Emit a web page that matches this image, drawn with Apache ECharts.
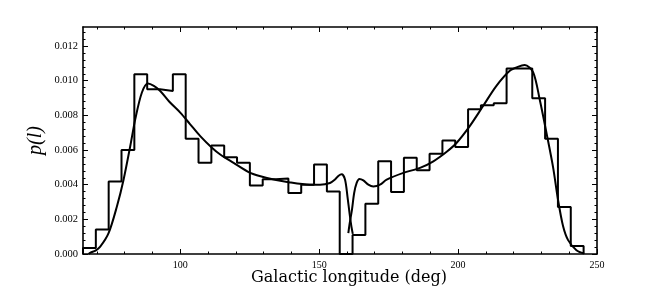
<!DOCTYPE html>
<html>
<head>
<meta charset="utf-8">
<script src="https://cdn.jsdelivr.net/npm/echarts@6/dist/echarts.min.js"></script>
<style>
html,body{margin:0;padding:0;background:#fff;}
#chart{width:664px;height:289px;}
</style>
</head>
<body>
<div id="chart"></div>
<script>
// ---- data ----
const xTicks = [100, 150, 200, 250];
const xMinorTicks = [70, 80, 90, 110, 120, 130, 140, 160, 170, 180, 190, 210, 220, 230, 240];
const yTicks = [0, 0.002, 0.004, 0.006, 0.008, 0.010, 0.012];
const yMinorTicks = [0.0004, 0.0008, 0.0012, 0.0016, 0.0024, 0.0028, 0.0032, 0.0036,
  0.0044, 0.0048, 0.0052, 0.0056, 0.0064, 0.0068, 0.0072, 0.0076,
  0.0084, 0.0088, 0.0092, 0.0096, 0.0104, 0.0108, 0.0112, 0.0116, 0.0124, 0.0128];

const binStart = 65;
const binWidth = 4.62;
const binHeights = [0.00035, 0.00142, 0.00418, 0.00600, 0.01038, 0.00951, 0.00941, 0.01038,
  0.00665, 0.00526, 0.00626, 0.00558, 0.00526, 0.00396, 0.00432, 0.00435, 0.00352, 0.00400,
  0.00516, 0.00361, 0.0, 0.00110, 0.00290, 0.00535, 0.00358, 0.00555, 0.00483, 0.00578,
  0.00655, 0.00618, 0.00835, 0.00858, 0.00870, 0.01071, 0.01071, 0.00899, 0.00665, 0.00271, 0.00046];

const fitLeftX = [67, 67.7, 69.5, 71.2, 74.2, 77.2, 79.6, 82.0, 83.8, 86.2, 88.4, 90.5, 92.8, 96, 100,
  103.5, 107.2, 111.4, 114.4, 119.2, 125.2, 131.2, 139.5, 146.7, 150.3, 153.9, 155.7, 157, 158.1,
  159.3, 160.2, 160.9, 161.5, 162.1];
const fitLeftY = [0.0, 0.00008, 0.0002, 0.00042, 0.0012, 0.00274, 0.00429, 0.00622, 0.00777, 0.00932,
  0.00984, 0.0097, 0.00941, 0.0088, 0.00816, 0.0075, 0.0068, 0.00613, 0.00574, 0.00526, 0.00468,
  0.00439, 0.00413, 0.0040, 0.0040, 0.0041, 0.0043, 0.00452, 0.0046, 0.0043, 0.0033, 0.0024, 0.0017, 0.00116];

const fitRightX = [160.5, 160.9, 161.8, 162.6, 163.5, 164.5, 165.9, 167.7, 169.5, 171.9, 174.3, 180.3,
  186.3, 191.1, 195.9, 199.5, 204.2, 209.0, 213.8, 218.6, 221.5, 224.0, 227.0, 229.4, 231.8, 234.2,
  236.0, 237.8, 239.6, 242.6, 245.3];
const fitRightY = [0.0012, 0.00168, 0.00255, 0.00352, 0.0041, 0.00433, 0.00425, 0.0040, 0.0039, 0.0040,
  0.00429, 0.00468, 0.00497, 0.00535, 0.0059, 0.00642, 0.00738, 0.00854, 0.0097, 0.01057, 0.0108,
  0.0109, 0.0105, 0.0089, 0.0070, 0.0050, 0.0031, 0.0016, 0.0008, 0.00022, 0.00003];

const xMin = 65, xMax = 250, yMin = 0, yMax = 0.0131;

// ---- build ----
const histData = [[binStart, 0]];
binHeights.forEach((h, i) => histData.push([binStart + i * binWidth, h]));
histData.push([binStart + binHeights.length * binWidth, 0]);

const fitLeft = fitLeftX.map((x, i) => [x, fitLeftY[i]]);
const fitRight = fitRightX.map((x, i) => [x, fitRightY[i]]);

const FONT = 'Liberation Serif';
const gridPos = {left: 83, right: 67, top: 27, bottom: 35, containLabel: false, outerBoundsMode: 'none'};
const lineStyle = {color: '#000', width: 1.6};

function xAx(grid, pos, ticks, len, labels, line) {
  return {
    type: 'value', gridIndex: grid, position: pos, min: xMin, max: xMax,
    splitLine: {show: false},
    axisLine: {show: line, lineStyle: lineStyle, onZero: false},
    axisTick: {show: true, inside: true, length: len, customValues: ticks, lineStyle: {color: '#000', width: 1}},
    axisLabel: {show: labels, customValues: ticks, color: '#000', fontFamily: FONT, fontSize: 10, margin: 6,
      formatter: v => String(Math.round(v))}
  };
}
function yAx(grid, pos, ticks, len, labels, line) {
  return {
    type: 'value', gridIndex: grid, position: pos, min: yMin, max: yMax,
    splitLine: {show: false},
    axisLine: {show: line, lineStyle: lineStyle, onZero: false},
    axisTick: {show: true, inside: true, length: len, customValues: ticks, lineStyle: {color: '#000', width: 1}},
    axisLabel: {show: labels, customValues: ticks, color: '#000', fontFamily: FONT, fontSize: 10.5, margin: 5,
      formatter: v => v.toFixed(3)}
  };
}

const xA0 = xAx(0, 'bottom', xTicks, 5, true, true);
xA0.name = 'Galactic longitude (deg)';
xA0.nameLocation = 'middle';
xA0.nameGap = 16;
xA0.nameMoveOverlap = false;
xA0.nameTextStyle = {fontFamily: 'DejaVu Serif', fontSize: 16, color: '#000', verticalAlign: 'top',
  padding: [0, 0, 0, 18]};

const yA0 = yAx(0, 'left', yTicks, 5, true, true);
yA0.name = 'p(l)';
yA0.nameLocation = 'middle';
yA0.nameGap = 37;
yA0.nameMoveOverlap = false;
yA0.nameTextStyle = {fontFamily: FONT, fontSize: 20, fontStyle: 'italic', color: '#000'};

const option = {
  backgroundColor: '#fff',
  animation: false,
  grid: [Object.assign({}, gridPos), Object.assign({}, gridPos)],
  xAxis: [
    xA0,
    xAx(0, 'top', xTicks, 5, false, true),
    xAx(1, 'bottom', xMinorTicks, 2.5, false, false),
    xAx(1, 'top', xMinorTicks, 2.5, false, false)
  ],
  yAxis: [
    yA0,
    yAx(0, 'right', yTicks, 5, false, true),
    yAx(1, 'left', yMinorTicks, 2.5, false, false),
    yAx(1, 'right', yMinorTicks, 2.5, false, false)
  ],
  series: [
    {type: 'line', xAxisIndex: 0, yAxisIndex: 0, data: histData, step: 'end', symbol: 'none',
      lineStyle: {color: '#000', width: 2}, z: 3},
    {type: 'line', xAxisIndex: 0, yAxisIndex: 0, data: fitLeft, smooth: 0.3, symbol: 'none',
      lineStyle: {color: '#000', width: 2}, z: 4},
    {type: 'line', xAxisIndex: 0, yAxisIndex: 0, data: fitRight, smooth: 0.3, symbol: 'none',
      lineStyle: {color: '#000', width: 2}, z: 4},
    {type: 'line', xAxisIndex: 2, yAxisIndex: 2, data: [], symbol: 'none'}
  ]
};

const chart = echarts.init(document.getElementById('chart'), null, {renderer: 'canvas'});
chart.setOption(option);
</script>
</body>
</html>
